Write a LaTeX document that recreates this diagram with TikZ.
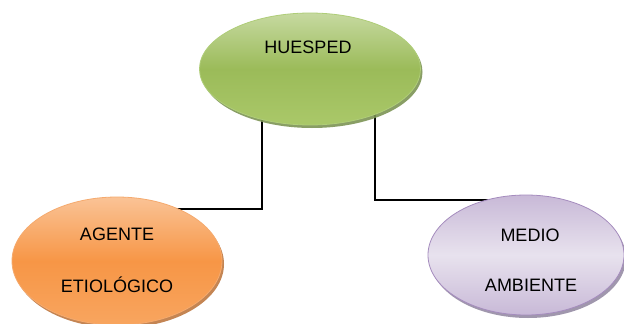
\documentclass[tikz,border=0pt]{standalone}
\usepackage{fontspec}
\setmainfont{Liberation Sans}
\usetikzlibrary{shapes.geometric,shadows,backgrounds}
\definecolor{gTop}{RGB}{198,217,160}
\definecolor{gMid}{RGB}{155,187,89}
\definecolor{gBot}{RGB}{170,200,105}
\definecolor{gLine}{RGB}{175,205,120}
\definecolor{gShd}{RGB}{125,148,85}
\definecolor{oTop}{RGB}{250,195,150}
\definecolor{oMid}{RGB}{247,150,70}
\definecolor{oBot}{RGB}{248,165,95}
\definecolor{oLine}{RGB}{245,170,110}
\definecolor{oShd}{RGB}{190,120,65}
\definecolor{pTop}{RGB}{200,185,215}
\definecolor{pMid}{RGB}{232,226,238}
\definecolor{pBot}{RGB}{200,185,215}
\definecolor{pLine}{RGB}{165,140,190}
\definecolor{pShd}{RGB}{150,140,165}
\tikzset{
  blob/.style={ellipse, inner sep=0pt, line width=0.8pt},
  green blob/.style={blob, draw=gLine, top color=gTop, bottom color=gBot, middle color=gMid,
    drop shadow={shadow xshift=2pt, shadow yshift=-3pt, fill=gShd, opacity=0.9}},
  orange blob/.style={blob, draw=oLine, top color=oTop, bottom color=oBot, middle color=oMid,
    drop shadow={shadow xshift=2pt, shadow yshift=-3pt, fill=oShd, opacity=0.9}},
  purple blob/.style={blob, draw=pLine, top color=pTop, bottom color=pBot, middle color=pMid,
    drop shadow={shadow xshift=2pt, shadow yshift=-3pt, fill=pShd, opacity=0.9}},
  lbl/.style={font=\fontsize{18}{21}\selectfont, text=black, inner sep=0pt},
  conn/.style={draw=black, line width=1.1pt}
}
\begin{document}
\begin{tikzpicture}[x=1pt,y=-1pt]
\useasboundingbox (0,0) rectangle (624,324);
\node[green blob, minimum width=221pt, minimum height=112pt] (h) at (310,69) {};
\node[orange blob, minimum width=210pt, minimum height=128pt] (a) at (117,261) {};
\node[purple blob, minimum width=196pt, minimum height=120pt] (m) at (526,255) {};
\node[lbl] (th) at (308,47) {HUESPED};
\node[lbl] (ta1) at (117,234) {AGENTE};
\node[lbl] (ta2) at (117,285) {ETIOLÓGICO};
\node[lbl] (tm1) at (530,235) {MEDIO};
\node[lbl] (tm2) at (531,285) {AMBIENTE};
\coordinate (lc) at (262,209);
\coordinate (rc) at (375,200);
\begin{scope}[on background layer]
\fill[white] (0,0) rectangle (624,324);
\draw[conn] (h.center -| lc) -- (lc) -- (a.center |- lc);
\draw[conn] (h.center -| rc) -- (rc) -- (m.center |- rc);
\end{scope}
\end{tikzpicture}
\end{document}
